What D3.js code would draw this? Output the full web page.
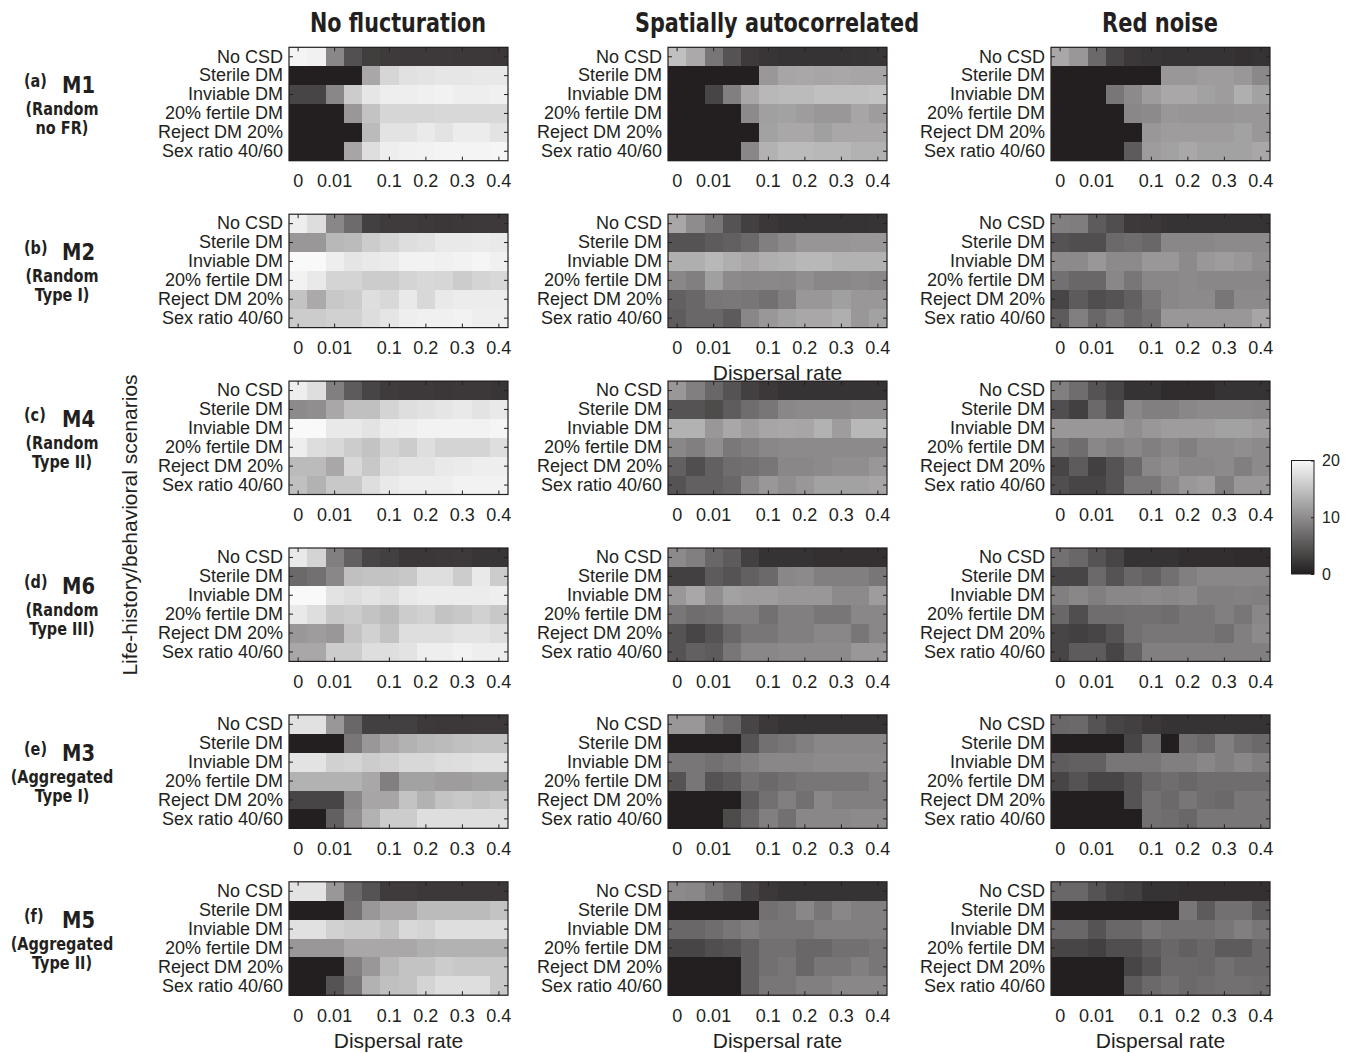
<!DOCTYPE html>
<html>
<head>
<meta charset="utf-8">
<script src="https://cdn.jsdelivr.net/npm/d3@7"></script>
<style>
  body { margin: 0; background: #fff; }
  svg text { fill: #231f20; }
</style>
</head>
<body>
<svg id="chart" width="1352" height="1053"></svg>
<script>
// ---- categories and labels ----
const scenarios = ["No CSD", "Sterile DM", "Inviable DM", "20% fertile DM", "Reject DM 20%", "Sex ratio 40/60"];
const dispersalRates = [0, 0.005, 0.01, 0.02, 0.05, 0.1, 0.15, 0.2, 0.25, 0.3, 0.35, 0.4];
const dispersalTicks = [0, 0.01, 0.1, 0.2, 0.3, 0.4];
const environments = ["No flucturation", "Spatially autocorrelated", "Red noise"];
const modelTags = ["(a)", "(b)", "(c)", "(d)", "(e)", "(f)"];
const modelNames = ["M1", "M2", "M4", "M6", "M3", "M5"];
const modelLine1 = ["(Random", "(Random", "(Random", "(Random", "(Aggregated", "(Aggregated"];
const modelLine2 = ["no FR)", "Type I)", "Type II)", "Type III)", "Type I)", "Type II)"];
const colorTicks = [0, 10, 20];

// ---- values: rows = scenarios, columns = dispersal rates ----
const m1None = [
  [19.5,19.3,9.5,4.5,2.8,2.5,2.4,2.4,2.4,2.3,2.3,2.2],
  [0,0,0,0,12.5,16.8,17.8,18,18.3,18.3,18.4,18.4],
  [3.5,3.5,9.5,15.9,18.3,19,19,19.2,19.4,19,19,19.2],
  [0,0,0,11,15,16.8,16.8,16.8,17,17,17,17],
  [0,0,0,0,14.3,18,18,18.6,18,18.8,18.8,18],
  [0,0,0,12.3,17.5,19,19.3,19.4,19.5,19.5,19.5,19.6]
];
const m1Spatial = [
  [14.8,12.7,8,4.8,2.5,2,1.8,1.8,1.8,1.8,1.9,2],
  [0,0,0,0,0,11,12.3,12.5,12.3,12.5,12.3,12.3],
  [0,0,3.5,8.8,12.5,14,14.3,14.3,14.8,14.8,14.8,15],
  [0,0,0,0,9.8,11.8,12,11.5,11,11,12.3,11.5],
  [0,0,0,0,0,12,12.5,12.5,11.8,12.5,12.5,12.5],
  [0,0,0,0,9.5,13.5,14.3,14.3,14,14,13.5,13.5]
];
const m1Red = [
  [12.5,11,6.8,3.5,2.3,2,1.8,1.8,1.8,1.8,1.6,1.8],
  [0,0,0,0,0,0,11,11,11.5,11.5,11,9.6],
  [0,0,0,8,9.8,11.5,12.5,12.5,12,11.5,13.2,12],
  [0,0,0,0,9.5,9.8,11,10.8,10.8,10.8,11,11],
  [0,0,0,0,0,11,11.5,11.5,11.5,11.5,12,11],
  [0,0,0,0,5.5,11.5,12,12.5,12,12,12,12.5]
];
const m2None = [
  [19,17.4,9.5,7,3,2.6,2.6,2.4,2.2,2.3,2.4,2.4],
  [11,11,14,14.3,15.9,16.6,17.5,17.8,18.5,18.5,18.7,18.5],
  [20,20,19,18.2,18.5,18.7,19.4,19.4,19.2,19.4,19.6,19.2],
  [19.4,18.5,16.6,16.6,15.9,15.9,16.6,17,16.8,15.9,16.6,17],
  [15,12.7,15.5,15.9,17.5,17,18.5,17,18.5,18.8,18.8,18.8],
  [15.9,15.9,16.3,16.3,17.4,18.2,19,19.2,19.2,19.4,19,19]
];
const m2Spatial = [
  [12.5,10,8,4.8,3,2.2,1.8,1.8,1.8,1.8,1.8,1.9],
  [4.8,4.8,5.5,6,6.8,8.8,9.8,10.8,10.8,10.8,11,11],
  [13.2,13.2,14,13.2,12.5,13.2,13.5,14,14,13.5,13.5,13.5],
  [9.5,8.8,11.8,9.8,9.5,9.6,9.5,10.2,9.5,9.5,9.8,9.5],
  [6,6.6,8,8.2,8,7.4,8.8,11,11,11.8,11,11],
  [5.6,6.6,6.6,5.5,9.5,11,12,12.5,12.5,13.2,11,12]
];
const m2Red = [
  [8.8,8.6,5.5,4.3,2.4,2.3,1.8,1.8,1.8,1.8,1.8,1.8],
  [4.8,4.3,4.3,6.8,7.2,6.6,9.5,9.5,9.5,9.8,9.8,9.8],
  [9.8,9.8,11,9.8,9.8,11,11,9.8,11,11.5,11,10.2],
  [7.4,6.6,6.6,9.5,8,9.5,9.5,9.8,9.5,9.5,9.5,9.5],
  [3.5,5.5,4.3,4.8,6,8,9.5,9.8,9.8,8,9.8,9.8],
  [5.5,8.8,6.6,8,6.6,7.4,11,11,11,11,11,12.3]
];
const m4None = [
  [19,17.5,8.8,5.5,3.5,2.6,2.4,2.4,2.2,2.3,2.3,2],
  [9.8,10.2,12.5,14.8,14.8,16.6,17.5,17.8,18.2,18.5,18,18.5],
  [20,20,18.5,18.5,18,18.8,19,19.4,19.4,19.4,19.4,19.6],
  [19,17.4,17,15.9,15,16.6,15.9,17.5,16.6,16.6,16.6,17.5],
  [14.3,14.3,12.5,17,15.5,17.5,18,18,18.5,18.7,19,19],
  [14.8,13.5,15.5,15.5,17.5,18.5,19,19,19,19.4,19.4,19.4]
];
const m4Spatial = [
  [11,8.8,6.6,4.8,3,2.3,1.8,1.8,1.8,1.8,1.8,1.8],
  [4.8,4.8,4,5.6,7.2,8,9.5,9.8,9.8,9.8,10.2,10.2],
  [13.5,13.5,11,12.5,11.5,12.3,12.5,12.3,13.5,11.5,14,14],
  [9.5,8.8,10.2,8.2,8.8,9.5,9.8,9.8,9.8,9.8,9.8,9.8],
  [6,4.3,6,7.2,7.4,8,9.5,9.5,9.8,10.2,10.2,11],
  [4.8,6,6,6.6,9.5,11,10.2,11,12,12,12,12.3]
];
const m4Red = [
  [8.8,7.2,4.8,3.5,1.8,1.8,1.2,1.2,1.2,1.8,1.8,1.8],
  [4.3,3,6.8,4.3,9.5,8.8,8.8,9.5,9.8,9.8,9.8,9.5],
  [11,11,11,11,10.2,11,11.5,11.5,11.5,12,12,11.5],
  [8,7.2,9.5,8.8,9.5,8.8,9.5,8.8,9.8,9.8,10.2,9.8],
  [3.5,5.5,3,4.8,6.8,9.5,10.2,9.5,9.5,9.8,8.8,9.8],
  [4.3,3.5,3.5,4.8,8,8,9.5,11,11.5,8.8,11,11]
];
const m6None = [
  [18.5,16.6,8.8,6,3.5,3,2.2,2.2,2.3,2.4,2,2],
  [6.8,7.4,9.5,14.8,15,15,15.5,17.5,17.5,15.9,18.5,15.9],
  [20,20,18,17.5,18,17.5,18.5,18.8,18.8,18.8,18.8,19],
  [18.5,17.5,15.5,15.9,15,14.3,15.9,16.3,15,15.5,16.3,15.5],
  [11,11.5,11,15,16.3,15,17.5,17.5,17.5,18,18,17.5],
  [12.5,12.5,15.9,15.9,17.5,17.5,18,19,19,19.4,19,19]
];
const m6Spatial = [
  [9.8,8.8,6.6,5.5,3,1.8,1.8,1.8,1.6,1.6,1.6,1.6],
  [3,3,5.5,4.8,6,6.8,9.5,9.8,8.8,8.8,8.8,8],
  [11,12.5,10.2,12,11.5,11.5,11,11,11,9.8,9.8,11.5],
  [8,7.2,7.4,8.8,8.8,7.4,8.8,8.8,8,8,9.5,9.5],
  [4.8,3.5,4.8,6.6,8,8,8.8,8.8,9.5,9.5,8,9.5],
  [4.8,6,5.5,8,9.5,9.5,9.8,9.8,9.8,9.8,11,11]
];
const m6Red = [
  [7.4,6.6,4.8,3.5,1.8,1.8,1.8,1.4,1.4,1.4,1.2,1.2],
  [3.5,3.5,6.8,4.8,6.6,6,7.4,8.8,9.5,9.5,9.5,9.5],
  [8.8,9.5,8.8,9.5,9.5,9.8,9.5,9.8,8.8,8.8,9,8.8],
  [6.6,4.3,7.2,7.2,7.4,7.4,7.2,8,8,8.8,8,9.5],
  [3.5,3,3.5,4.8,7.4,8,8,8,8,7.4,8.8,9.8],
  [3.5,5.5,5.5,3.5,6,8.8,8.8,8.8,8.8,8.8,8.8,8.8]
];
const m3None = [
  [17.8,17.8,11,6.6,3,3,3,2.4,2.3,2.3,2.4,2.4],
  [0,0,0,8,11,12.5,13.5,14,14.3,14.8,15,15],
  [18,18,16.3,16.6,15.9,16.3,17,17,17.4,17.5,17.8,17.8],
  [13.5,13.5,13.5,13.5,12.5,8.8,12,12,11.5,11.5,12,12],
  [3.5,3.5,3.5,9.5,12.3,12.3,15,13.5,15,15.5,15,15.5],
  [0,0,6,10.2,13.5,15.9,15.9,17.5,17.5,17.5,17.5,17.5]
];
const m3Spatial = [
  [11,11,8,6.6,3.5,2.3,1.8,1.8,1.8,1.8,1.8,1.8],
  [0,0,0,0,4.8,7.4,8,8.8,9.5,9.5,9.5,9.5],
  [8,8,7.4,8,8.8,9.5,9.5,9.5,9.8,9.8,9.8,9.8],
  [4.8,8,4.8,5.5,7.4,6.8,7.4,8,8,8,8,8.8],
  [0,0,0,0,5.5,7.4,8.8,7.4,9.5,8.8,8.8,8.8],
  [0,0,0,4,6.6,8.8,7.4,9.5,9.5,9.5,9.8,9.8]
];
const m3Red = [
  [6.6,6.8,4.8,3.5,3,2.3,1.8,1.8,1.8,1.8,1.8,1.8],
  [0,0,0,0,3.5,6.8,0,7.4,6.8,8.8,7.4,6.8],
  [5.6,6,6,8,8,8,8.8,8.8,9.5,8.8,9.5,8.8],
  [3.5,4.8,3.5,3.5,4.8,6.6,7.2,6.6,7.2,7.2,7.2,7.2],
  [0,0,0,0,4.8,7.4,6.8,8,7.2,6.8,8,8],
  [0,0,0,0,0,7.4,7.2,6.6,8,8,8,8]
];
const m5None = [
  [18,18,11,6.8,4.8,2.6,2.6,2.3,2.3,2.3,2.3,2.3],
  [0,0,0,7.4,11,12.5,12.5,14.3,14.3,14.3,14.3,15],
  [17.8,17.8,16.3,15.9,15.9,15,17,16.6,17.5,17.5,17.5,17.5],
  [11,11,11,12.5,12.5,12.5,12.5,13.2,13.5,13.5,13.5,13.5],
  [0,0,0,8.8,11,14,15,15,15.9,15.5,15.5,15.5],
  [0,0,4.8,8,13.5,14.8,15,16.6,17.5,17.5,17.5,15.5]
];
const m5Spatial = [
  [9.8,9.5,8,6.6,3.5,2.3,1.8,1.8,1.8,1.8,1.8,1.8],
  [0,0,0,0,0,7.4,8,9.5,8,9.5,8.8,8.8],
  [6.6,6.6,7.2,8,8.8,8,8,8,8.8,8.8,8.8,8.8],
  [3.5,3.5,4.3,4.8,6,7.4,7.4,6.6,6.6,7.4,7.4,8],
  [0,0,0,0,6,7.4,8,6.6,8,8,8.8,8],
  [0,0,0,0,6,8,8,8.8,8.8,9.5,9.5,9.5]
];
const m5Red = [
  [6.6,6.6,4.8,3.5,3,1.8,1.8,1.6,1.6,1.6,1.6,1.6],
  [0,0,0,0,0,0,0,8,5.5,7.4,7.4,5.5],
  [6.6,6.6,4.8,6.6,6.6,8,7.4,7.4,7.4,8,8.8,8],
  [3.5,3.5,3,4.3,4.3,5.6,6.6,6,6.6,5.5,5.5,6.8],
  [0,0,0,0,3.5,4.8,6.8,6.8,6.6,7.4,6.8,6.8],
  [0,0,0,0,5.5,6.8,7.4,6.8,7.2,7.4,7.4,7.2]
];

// grid of panels: one row per model, one column per environment
const panelGrid = [
  [m1None, m1Spatial, m1Red],
  [m2None, m2Spatial, m2Red],
  [m4None, m4Spatial, m4Red],
  [m6None, m6Spatial, m6Red],
  [m3None, m3Spatial, m3Red],
  [m5None, m5Spatial, m5Red]
];

// ---- layout ----
const svg = d3.select("#chart");
const ink = "#231f20";
const panelW = 219, panelH = 113.4;
const colLeft = [289, 668, 1051];
const rowTop = i => 47.3 + i * 166.9;
const sansFont = "'Liberation Sans', Arial, Helvetica, sans-serif";
const boldFont = "'DejaVu Sans', Verdana, sans-serif";

const color = d3.scaleLinear().domain([0, 20]).range(["#231f20", "#f9f9f9"]).clamp(true);

// squeeze bold labels horizontally to a narrower face
function condense(sel, factor) {
  sel.each(function () {
    const w = this.getComputedTextLength();
    d3.select(this).attr("textLength", w * factor).attr("lengthAdjust", "spacingAndGlyphs");
  });
}

// column titles
const titleWidths = [176, 284, 116];
svg.selectAll("text.env-title")
  .data(environments)
  .join("text")
  .attr("class", "env-title")
  .attr("x", (d, i) => colLeft[i] + panelW / 2 - 0.5)
  .attr("y", 32)
  .attr("text-anchor", "middle")
  .style("font-family", boldFont)
  .style("font-weight", "bold")
  .style("font-size", "26px")
  .attr("textLength", (d, i) => titleWidths[i])
  .attr("lengthAdjust", "spacingAndGlyphs")
  .text(d => d);

// x-axis caption sitting under the second-row middle panel (partly covered by the panel below)
svg.append("text")
  .attr("x", colLeft[1] + panelW / 2)
  .attr("y", 380)
  .attr("text-anchor", "middle")
  .style("font-family", sansFont)
  .style("font-size", "21px")
  .text("Dispersal rate");

// y-axis caption
svg.append("text")
  .attr("transform", "translate(137,525) rotate(-90)")
  .attr("text-anchor", "middle")
  .style("font-family", sansFont)
  .style("font-size", "21px")
  .text("Life-history/behavioral scenarios");

// model labels on the left
modelNames.forEach((name, i) => {
  const base = rowTop(i) - 47.3;
  const g = svg.append("g").attr("class", "model-label");
  const tag = g.append("text").attr("x", 24).attr("y", base + 87)
    .style("font-family", boldFont).style("font-weight", "bold").style("font-size", "17px")
    .text(modelTags[i]);
  const nm = g.append("text").attr("x", 62).attr("y", base + 93)
    .style("font-family", boldFont).style("font-weight", "bold").style("font-size", "23px")
    .text(name);
  const l1 = g.append("text").attr("x", 62).attr("y", base + 115).attr("text-anchor", "middle")
    .style("font-family", boldFont).style("font-weight", "bold").style("font-size", "17px")
    .text(modelLine1[i]);
  const l2 = g.append("text").attr("x", 62).attr("y", base + 134).attr("text-anchor", "middle")
    .style("font-family", boldFont).style("font-weight", "bold").style("font-size", "17px")
    .text(modelLine2[i]);
  condense(tag, 0.85);
  condense(nm, 0.85);
  condense(l1, 0.85);
  condense(l2, 0.85);
});

// heatmap panels
panelGrid.forEach((rowPanels, r) => {
  rowPanels.forEach((values, c) => {
    const left = colLeft[c], top = rowTop(r);
    const x = d3.scaleBand().domain(dispersalRates).range([left, left + panelW]);
    const y = d3.scaleBand().domain(scenarios).range([top, top + panelH]);
    const g = svg.append("g").attr("class", "panel");

    const cells = [];
    values.forEach((row, si) => row.forEach((v, di) => {
      cells.push({ scenario: scenarios[si], rate: dispersalRates[di], value: v });
    }));

    g.selectAll("rect.cell")
      .data(cells)
      .join("rect")
      .attr("class", "cell")
      .attr("x", d => x(d.rate))
      .attr("y", d => y(d.scenario))
      .attr("width", x.bandwidth() + 0.4)
      .attr("height", y.bandwidth() + 0.4)
      .attr("fill", d => color(d.value))
      .attr("shape-rendering", "crispEdges");

    // frame
    g.append("rect")
      .attr("x", left).attr("y", top)
      .attr("width", panelW).attr("height", panelH)
      .attr("fill", "none").attr("stroke", ink).attr("stroke-width", 1.2);

    const tickFmt = d => String(d);
    const style = sel => {
      sel.select(".domain").remove();
      sel.selectAll(".tick line").attr("stroke", ink).attr("stroke-width", 1);
      sel.selectAll(".tick text").style("font-family", sansFont).style("font-size", "18px").attr("fill", ink);
    };

    g.append("g")
      .attr("transform", `translate(0,${top + panelH})`)
      .call(d3.axisBottom(x).tickValues(dispersalTicks).tickFormat(tickFmt).tickSizeInner(-4).tickSizeOuter(0).tickPadding(14))
      .call(style);
    g.append("g")
      .attr("transform", `translate(0,${top})`)
      .call(d3.axisTop(x).tickValues(dispersalTicks).tickFormat("").tickSizeInner(-4).tickSizeOuter(0))
      .call(style);
    g.append("g")
      .attr("transform", `translate(${left},0)`)
      .call(d3.axisLeft(y).tickSizeInner(-4).tickSizeOuter(0).tickPadding(6))
      .call(style);
    g.append("g")
      .attr("transform", `translate(${left + panelW},0)`)
      .call(d3.axisRight(y).tickFormat("").tickSizeInner(-4).tickSizeOuter(0))
      .call(style);
  });
});

// bottom x-axis captions
environments.forEach((e, c) => {
  svg.append("text")
    .attr("x", colLeft[c] + panelW / 2)
    .attr("y", 1048)
    .attr("text-anchor", "middle")
    .style("font-family", sansFont)
    .style("font-size", "21px")
    .text("Dispersal rate");
});

// colour bar
const cbX = 1291.5, cbW = 22.5, cbTop = 460.5, cbBottom = 574;
const defs = svg.append("defs");
const grad = defs.append("linearGradient").attr("id", "cbar")
  .attr("x1", 0).attr("y1", 1).attr("x2", 0).attr("y2", 0);
d3.range(0, 21, 2).forEach(v => {
  grad.append("stop").attr("offset", v / 20).attr("stop-color", color(v));
});
svg.append("rect")
  .attr("x", cbX).attr("y", cbTop).attr("width", cbW).attr("height", cbBottom - cbTop)
  .attr("fill", "url(#cbar)").attr("stroke", ink).attr("stroke-width", 1);
const cScale = d3.scaleLinear().domain([0, 20]).range([cbBottom, cbTop]);
svg.append("g")
  .attr("transform", `translate(${cbX + cbW},0)`)
  .call(d3.axisRight(cScale).tickValues(colorTicks).tickSizeInner(-3).tickSizeOuter(0).tickPadding(8))
  .call(sel => {
    sel.select(".domain").remove();
    sel.selectAll(".tick line").attr("stroke", ink);
    sel.selectAll(".tick text").style("font-family", sansFont).style("font-size", "16px").attr("fill", ink);
  });
</script>
</body>
</html>
